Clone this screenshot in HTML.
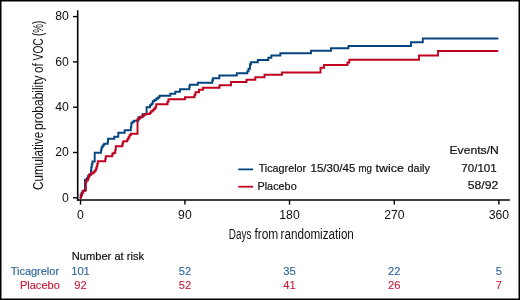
<!DOCTYPE html>
<html><head><meta charset="utf-8"><style>
html,body{margin:0;padding:0;background:#fff;}
svg{display:block;will-change:transform;}
text{font-family:"Liberation Sans",sans-serif;}
</style></head><body>
<svg width="520" height="300" viewBox="0 0 520 300">
<rect x="0" y="0" width="520" height="300" fill="#fff"/>
<rect x="0.75" y="0.75" width="518.5" height="298.5" fill="none" stroke="#000" stroke-width="1.5"/>
<line x1="77.7" y1="10.3" x2="77.7" y2="200.8" stroke="#000" stroke-width="1.6"/>
<line x1="76.9" y1="200.0" x2="509.8" y2="200.0" stroke="#000" stroke-width="1.6"/>
<path d="M80.5,197.8H80.6V194.75H81.6V192.75H82.6V191.05H85.0V179.75H86.8V178.25H88.0V176.25H88.8V174.75H91.0V170.25H91.3V167.25H91.8V164.25H92.4V161.55H94.7V152.75H101.0V150.25H101.5V147.75H102.3V146.25H103.3V144.75H104.3V143.75H107.7V141.75H108.0V138.75H114.3V136.75H118.3V132.75H124.7V130.25H130.8V127.25H131.3V123.25H132.5V121.75H134.0V120.75H138.5V117.25H142.5V114.25H146.6V107.25H150.0V105.25H151.5V103.75H152.8V101.25H154.5V100.05H156.3V98.55H158.0V97.45H159.5V95.75H170.3V93.75H175.3V91.75H180.0V89.25H189.3V86.75H189.8V84.75H197.8V82.75H212.3V80.25H213.0V78.25H219.3V75.55H236.8V73.25H247.3V71.25H248.5V68.75H250.0V64.25H251.0V62.25H257.8V60.05H268.3V57.75H271.3V55.55H280.3V53.25H311.0V50.75H331.0V48.25H348.5V46.05H411.0V42.25H422.8V38.50H497.6" fill="none" stroke="#05457f" stroke-width="1.9" stroke-linecap="round"/>
<path d="M80.5,197.8H81.0V195.75H81.8V193.25H82.8V191.25H84.0V190.25H85.9V181.75H86.6V180.25H88.0V178.05H88.8V175.75H89.8V174.55H90.8V173.55H93.3V172.25H94.3V171.25H95.5V169.75H96.2V168.05H96.8V166.25H97.3V163.75H97.8V161.25H105.3V158.75H105.8V156.25H112.3V153.75H113.5V152.75H115.3V149.75H115.8V146.25H122.3V144.25H122.8V142.25H123.5V141.25H127.3V139.25H128.5V137.25H129.5V135.25H130.8V133.75H137.5V119.05H139.5V117.75H140.5V116.75H142.5V115.75H144.0V114.75H145.3V113.95H149.8V112.75H151.0V111.45H152.5V110.25H153.8V108.75H155.3V107.25H156.2V104.25H167.5V101.75H168.5V99.25H185.0V97.25H194.5V94.75H195.5V92.25H199.0V89.75H203.0V87.75H219.5V85.25H231.0V82.05H246.5V79.75H255.3V77.25H264.5V74.75H282.0V72.45H320.5V67.75H324.0V65.05H347.5V62.55H349.3V59.75H419.0V55.55H438.0V51.05H497.6" fill="none" stroke="#c0001e" stroke-width="1.9" stroke-linecap="round"/>
<line x1="238.3" y1="169.4" x2="253.1" y2="169.4" stroke="#05457f" stroke-width="1.8"/>
<line x1="238.3" y1="186.7" x2="253.1" y2="186.7" stroke="#c0001e" stroke-width="1.8"/>
<line x1="73" y1="197.8" x2="77.7" y2="197.8" stroke="#000" stroke-width="1.4"/>
<line x1="73" y1="152.5" x2="77.7" y2="152.5" stroke="#000" stroke-width="1.4"/>
<line x1="73" y1="107.2" x2="77.7" y2="107.2" stroke="#000" stroke-width="1.4"/>
<line x1="73" y1="61.9" x2="77.7" y2="61.9" stroke="#000" stroke-width="1.4"/>
<line x1="73" y1="16.6" x2="77.7" y2="16.6" stroke="#000" stroke-width="1.4"/>
<line x1="80.5" y1="200" x2="80.5" y2="204.6" stroke="#000" stroke-width="1.4"/>
<line x1="184.9" y1="200" x2="184.9" y2="204.6" stroke="#000" stroke-width="1.4"/>
<line x1="289.5" y1="200" x2="289.5" y2="204.6" stroke="#000" stroke-width="1.4"/>
<line x1="394.3" y1="200" x2="394.3" y2="204.6" stroke="#000" stroke-width="1.4"/>
<line x1="498.9" y1="200" x2="498.9" y2="204.6" stroke="#000" stroke-width="1.4"/>
<text x="228.84" y="239.00" font-size="13.8" fill="#111111" textLength="22.52" lengthAdjust="spacingAndGlyphs">Days</text>
<text x="254.40" y="239.00" font-size="13.8" fill="#111111" textLength="23.92" lengthAdjust="spacingAndGlyphs">from</text>
<text x="280.52" y="239.00" font-size="13.8" fill="#111111" textLength="73.36" lengthAdjust="spacingAndGlyphs">randomization</text>
<text x="-189.90" y="43.20" font-size="14" fill="#111111" textLength="58.00" lengthAdjust="spacingAndGlyphs" transform="rotate(-90)">Cumulative</text>
<text x="-129.90" y="43.20" font-size="14" fill="#111111" textLength="54.40" lengthAdjust="spacingAndGlyphs" transform="rotate(-90)">probability</text>
<text x="-73.00" y="43.20" font-size="14" fill="#111111" textLength="9.80" lengthAdjust="spacingAndGlyphs" transform="rotate(-90)">of</text>
<text x="-60.38" y="43.20" font-size="14" fill="#111111" textLength="22.12" lengthAdjust="spacingAndGlyphs" transform="rotate(-90)">VOC</text>
<text x="-35.90" y="43.20" font-size="14" fill="#111111" textLength="15.20" lengthAdjust="spacingAndGlyphs" transform="rotate(-90)">(%)</text>
<text x="449.48" y="154.40" font-size="11.2" fill="#111111" textLength="49.32" lengthAdjust="spacingAndGlyphs" stroke="#111111" stroke-width="0.2">Events/N</text>
<text x="258.64" y="172.30" font-size="11.2" fill="#111111" textLength="47.56" lengthAdjust="spacingAndGlyphs" stroke="#111111" stroke-width="0.2">Ticagrelor</text>
<text x="310.50" y="172.30" font-size="11.2" fill="#111111" textLength="44.88" lengthAdjust="spacingAndGlyphs" stroke="#111111" stroke-width="0.2">15/30/45</text>
<text x="358.50" y="172.30" font-size="11.2" fill="#111111" textLength="13.44" lengthAdjust="spacingAndGlyphs" stroke="#111111" stroke-width="0.2">mg</text>
<text x="375.64" y="172.30" font-size="11.2" fill="#111111" textLength="28.36" lengthAdjust="spacingAndGlyphs" stroke="#111111" stroke-width="0.2">twice</text>
<text x="407.50" y="172.30" font-size="11.2" fill="#111111" textLength="22.48" lengthAdjust="spacingAndGlyphs" stroke="#111111" stroke-width="0.2">daily</text>
<text x="257.48" y="189.80" font-size="11.2" fill="#111111" textLength="39.20" lengthAdjust="spacingAndGlyphs" stroke="#111111" stroke-width="0.2">Placebo</text>
<text x="461.32" y="172.00" font-size="11.2" fill="#111111" textLength="35.40" lengthAdjust="spacingAndGlyphs" stroke="#111111" stroke-width="0.2">70/101</text>
<text x="467.72" y="189.20" font-size="11.2" fill="#111111" textLength="30.44" lengthAdjust="spacingAndGlyphs" stroke="#111111" stroke-width="0.2">58/92</text>
<text x="71.74" y="260.00" font-size="11.2" fill="#111111" textLength="72.32" lengthAdjust="spacingAndGlyphs" stroke="#111111" stroke-width="0.2">Number at risk</text>
<text x="10.66" y="274.50" font-size="11.2" fill="#2a639b" textLength="48.40" lengthAdjust="spacingAndGlyphs" stroke="#2a639b" stroke-width="0.15">Ticagrelor</text>
<text x="19.90" y="289.40" font-size="11.2" fill="#c81838" textLength="39.96" lengthAdjust="spacingAndGlyphs" stroke="#c81838" stroke-width="0.15">Placebo</text>
<text x="68.80" y="201.50" font-size="12.2" fill="#111111" text-anchor="end">0</text>
<text x="68.80" y="156.20" font-size="12.2" fill="#111111" text-anchor="end">20</text>
<text x="68.80" y="110.90" font-size="12.2" fill="#111111" text-anchor="end">40</text>
<text x="68.80" y="65.60" font-size="12.2" fill="#111111" text-anchor="end">60</text>
<text x="68.80" y="20.30" font-size="12.2" fill="#111111" text-anchor="end">80</text>
<text x="80.50" y="218.50" font-size="12.2" fill="#111111" text-anchor="middle">0</text>
<text x="184.90" y="218.50" font-size="12.2" fill="#111111" text-anchor="middle">90</text>
<text x="289.50" y="218.50" font-size="12.2" fill="#111111" text-anchor="middle">180</text>
<text x="394.30" y="218.50" font-size="12.2" fill="#111111" text-anchor="middle">270</text>
<text x="498.90" y="218.50" font-size="12.2" fill="#111111" text-anchor="middle">360</text>
<text x="80.50" y="274.70" font-size="11.2" fill="#2a639b" text-anchor="middle" stroke="#2a639b" stroke-width="0.1">101</text>
<text x="80.50" y="289.30" font-size="11.2" fill="#c81838" text-anchor="middle" stroke="#c81838" stroke-width="0.1">92</text>
<text x="184.90" y="274.70" font-size="11.2" fill="#2a639b" text-anchor="middle" stroke="#2a639b" stroke-width="0.1">52</text>
<text x="184.90" y="289.30" font-size="11.2" fill="#c81838" text-anchor="middle" stroke="#c81838" stroke-width="0.1">52</text>
<text x="289.50" y="274.70" font-size="11.2" fill="#2a639b" text-anchor="middle" stroke="#2a639b" stroke-width="0.1">35</text>
<text x="289.50" y="289.30" font-size="11.2" fill="#c81838" text-anchor="middle" stroke="#c81838" stroke-width="0.1">41</text>
<text x="394.30" y="274.70" font-size="11.2" fill="#2a639b" text-anchor="middle" stroke="#2a639b" stroke-width="0.1">22</text>
<text x="394.30" y="289.30" font-size="11.2" fill="#c81838" text-anchor="middle" stroke="#c81838" stroke-width="0.1">26</text>
<text x="498.90" y="274.70" font-size="11.2" fill="#2a639b" text-anchor="middle" stroke="#2a639b" stroke-width="0.1">5</text>
<text x="498.90" y="289.30" font-size="11.2" fill="#c81838" text-anchor="middle" stroke="#c81838" stroke-width="0.1">7</text>
</svg>
</body></html>
